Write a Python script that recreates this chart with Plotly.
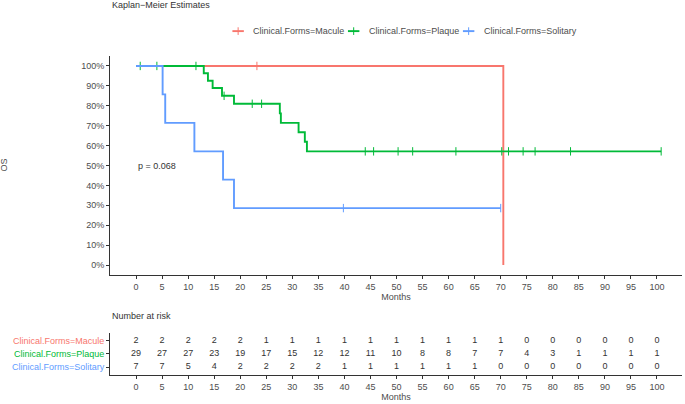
import plotly.graph_objects as go

# survival curves (months, survival probability)
macule_time = [0, 70.5]
macule_surv = [1.0, 0.0]
macule_cens_time = [23.2]
macule_cens_surv = [1.0]

plaque_time = [0, 13.0, 13.8, 14.7, 16.5, 18.8, 27.6, 27.8, 31.2, 32.4, 32.8, 100.8]
plaque_surv = [1.0, 0.963, 0.926, 0.889, 0.850, 0.810, 0.762, 0.714, 0.667, 0.619, 0.571, 0.571]
plaque_cens_time = [0.8, 4.0, 11.5, 16.9, 22.3, 24.1, 44.0, 45.6, 50.3, 53.1, 61.4,
                    70.2, 71.5, 74.3, 76.6, 83.4, 100.8]
plaque_cens_surv = [1.0, 1.0, 1.0, 0.850, 0.810, 0.810, 0.571, 0.571, 0.571, 0.571, 0.571,
                    0.571, 0.571, 0.571, 0.571, 0.571, 0.571]

solitary_time = [0, 5.1, 5.6, 11.2, 16.7, 18.8, 70.0]
solitary_surv = [1.0, 0.857, 0.714, 0.571, 0.429, 0.286, 0.286]
solitary_cens_time = [39.8, 70.0]
solitary_cens_surv = [0.286, 0.286]

# number at risk table
risk_times = [0, 5, 10, 15, 20, 25, 30, 35, 40, 45, 50, 55, 60, 65, 70, 75, 80, 85, 90, 95, 100]
macule_risk = [2, 2, 2, 2, 2, 1, 1, 1, 1, 1, 1, 1, 1, 1, 1, 0, 0, 0, 0, 0, 0]
plaque_risk = [29, 27, 27, 23, 19, 17, 15, 12, 12, 11, 10, 8, 8, 7, 7, 4, 3, 1, 1, 1, 1]
solitary_risk = [7, 7, 5, 4, 2, 2, 2, 2, 1, 1, 1, 1, 1, 1, 0, 0, 0, 0, 0, 0, 0]

groups = ['Clinical.Forms=Macule', 'Clinical.Forms=Plaque', 'Clinical.Forms=Solitary']
colors = ['#F8766D', '#00BA38', '#619CFF']

FONT = 'Liberation Sans'
TXT = '#4d4d4d'

fig = go.Figure()

curves = [
    (macule_time, macule_surv, macule_cens_time, macule_cens_surv),
    (plaque_time, plaque_surv, plaque_cens_time, plaque_cens_surv),
    (solitary_time, solitary_surv, solitary_cens_time, solitary_cens_surv),
]
for name, col, (t, s, ct, cs) in zip(groups, colors, curves):
    fig.add_trace(go.Scatter(
        x=t, y=s, mode='lines', line_shape='hv', name=name,
        line=dict(color=col, width=1.9), showlegend=False,
        xaxis='x', yaxis='y'
    ))
    fig.add_trace(go.Scatter(
        x=ct, y=cs, mode='markers', showlegend=False,
        marker=dict(symbol='line-ns', size=6, line=dict(color=col, width=1)),
        xaxis='x', yaxis='y'
    ))

# risk table rows
for row, risk in zip([3, 2, 1], [macule_risk, plaque_risk, solitary_risk]):
    fig.add_trace(go.Scatter(
        x=risk_times, y=[row] * len(risk_times), mode='text',
        text=[str(v) for v in risk], textfont=dict(family=FONT, size=9, color='#333333'),
        showlegend=False, xaxis='x2', yaxis='y2'
    ))

axis_common = dict(
    showline=True, linecolor='#333333', linewidth=1, showgrid=False, zeroline=False,
    ticks='outside', ticklen=3, tickcolor='#333333',
    tickfont=dict(family=FONT, size=9, color=TXT),
)

# legend drawn by hand: short swatches like ggplot's, placed above the plot
legend_x = [0.214, 0.416, 0.617]   # left edge of each swatch, in paper units
legend_y = 1.078
sw = 0.02
shapes = []
annotations = []
for g, c, lx in zip(groups, colors, legend_x):
    shapes.append(dict(type='line', xref='paper', yref='paper', x0=lx, x1=lx + sw,
                       y0=legend_y, y1=legend_y, line=dict(color=c, width=1.9)))
    shapes.append(dict(type='line', xref='paper', yref='paper', x0=lx + sw / 2, x1=lx + sw / 2,
                       y0=legend_y - 0.012, y1=legend_y + 0.012, line=dict(color=c, width=1)))
    annotations.append(dict(text=g, xref='paper', yref='paper', x=lx + sw + 0.013, y=legend_y,
                            xanchor='left', yanchor='middle', showarrow=False,
                            font=dict(family=FONT, size=9, color=TXT)))

annotations += [
    dict(text='Kaplan\u2212Meier Estimates', xref='paper', yref='paper', x=0, y=1.16,
         xanchor='left', yanchor='middle', showarrow=False,
         font=dict(family=FONT, size=9, color='#333333')),
    dict(text='OS', xref='paper', yref='paper', x=-0.185, y=0.657, textangle=-90,
         xanchor='center', yanchor='middle', showarrow=False,
         font=dict(family=FONT, size=9, color=TXT)),
    dict(text='p = 0.068', xref='x', yref='y', x=0, y=0.5, xanchor='left',
         yanchor='middle', showarrow=False, font=dict(family=FONT, size=9, color='#333333')),
    dict(text='Number at risk', xref='paper', yref='paper', x=0, y=0.185,
         xanchor='left', yanchor='middle', showarrow=False,
         font=dict(family=FONT, size=9, color='#333333')),
]

fig.update_layout(
    width=685, height=404,
    margin=dict(l=110, r=3, t=56, b=29),
    plot_bgcolor='white', paper_bgcolor='white',
    font=dict(family=FONT, size=9, color=TXT),
    showlegend=False,
    xaxis=dict(domain=[0, 1], range=[-5, 104.8], tickvals=risk_times, anchor='y',
               title=dict(text='Months', font=dict(size=9, color=TXT), standoff=2),
               **axis_common),
    yaxis=dict(domain=[0.3135, 1], range=[-0.05, 1.05], tickvals=[i / 10 for i in range(11)],
               tickformat='.0%', anchor='x', **axis_common),
    xaxis2=dict(domain=[0, 1], range=[-5, 104.8], tickvals=risk_times, anchor='y2',
                title=dict(text='Months', font=dict(size=9, color=TXT), standoff=0),
                **axis_common),
    yaxis2=dict(domain=[0, 0.1317], range=[0.4, 3.6], tickvals=[3, 2, 1], anchor='x2',
                ticktext=[f'<span style="color:{c}">{g}</span>' for g, c in zip(groups, colors)],
                **axis_common),
    shapes=shapes,
    annotations=annotations,
)

# page has a default 8px body margin; drop it so the figure fills the window
fig.write_html('out.html', config={'displayModeBar': False},
               post_script="document.body.style.margin='0';")
